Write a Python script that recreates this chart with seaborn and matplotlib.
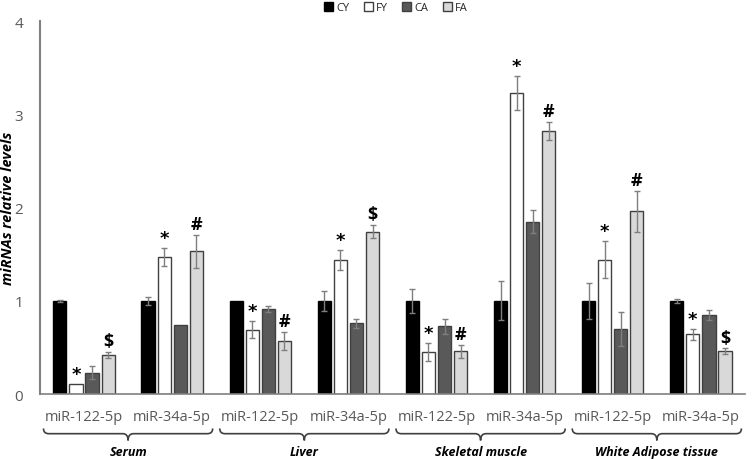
import matplotlib
matplotlib.use("Agg")
import matplotlib.pyplot as plt
import matplotlib.transforms as mtransforms
import numpy as np
import pandas as pd
import seaborn as sns
from matplotlib.patches import Patch, PathPatch
from matplotlib.path import Path as MPath

TISSUES = ["Serum", "Liver", "Skeletal muscle", "White Adipose tissue"]
GENES = ["miR-122-5p", "miR-34a-5p"]
GROUPS = ["CY", "FY", "CA", "FA"]

# order: Serum 122, Serum 34a, Liver 122, Liver 34a, SM 122, SM 34a, WAT 122, WAT 34a
CY = [1.00, 1.00, 1.00, 1.00, 1.00, 1.00, 1.00, 1.00]
FY = [0.11, 1.47, 0.69, 1.44, 0.45, 3.23, 1.44, 0.64]
CA = [0.23, 0.74, 0.91, 0.76, 0.73, 1.85, 0.70, 0.85]
FA = [0.42, 1.53, 0.57, 1.74, 0.46, 2.82, 1.96, 0.46]

CY_ERR = [0.01, 0.04, 0.00, 0.11, 0.13, 0.21, 0.19, 0.02]
FY_ERR = [0.00, 0.10, 0.09, 0.11, 0.10, 0.18, 0.20, 0.06]
CA_ERR = [0.07, 0.00, 0.03, 0.05, 0.08, 0.12, 0.18, 0.05]
FA_ERR = [0.03, 0.18, 0.10, 0.07, 0.07, 0.10, 0.22, 0.03]

FY_MARK = ["*", "*", "*", "*", "*", "*", "*", "*"]
FA_MARK = ["$", "#", "#", "$", "#", "#", "#", "$"]

COLORS = {"CY": "#000000", "FY": "#ffffff", "CA": "#595959", "FA": "#d9d9d9"}
EDGES = {"CY": "#000000", "FY": "#404040", "CA": "#404040", "FA": "#404040"}


def draw_brace(ax, x0, x1, y_top, y_mid, y_bot, dx=0.06):
    trans = mtransforms.blended_transform_factory(ax.transData, ax.transAxes)
    xc = (x0 + x1) / 2
    verts = [
        (x0, y_top), (x0, y_mid), (x0 + dx, y_mid),
        (xc - dx, y_mid), (xc, y_mid), (xc, y_bot),
        (xc, y_mid), (xc + dx, y_mid),
        (x1 - dx, y_mid), (x1, y_mid), (x1, y_top),
    ]
    codes = [
        MPath.MOVETO, MPath.CURVE3, MPath.CURVE3,
        MPath.LINETO, MPath.CURVE3, MPath.CURVE3,
        MPath.CURVE3, MPath.CURVE3,
        MPath.LINETO, MPath.CURVE3, MPath.CURVE3,
    ]
    patch = PathPatch(MPath(verts, codes), fill=False, edgecolor="#404040",
                      linewidth=1.2, transform=trans, clip_on=False)
    ax.add_patch(patch)


sns.set_style("white")
plt.rcParams["font.family"] = ["Open Sans", "DejaVu Sans"]

keys = [f"{t}|{g}" for t in TISSUES for g in GENES]
df = pd.DataFrame({
    "key": keys * 4,
    "group": np.repeat(GROUPS, len(keys)),
    "value": CY + FY + CA + FA,
})

fig = plt.figure(figsize=(7.54, 4.60), dpi=100)
ax = fig.add_axes([0.053, 0.141, 0.935, 0.811])

sns.barplot(data=df, x="key", y="value", hue="group", order=keys,
            hue_order=GROUPS, palette=COLORS, width=0.73, gap=0.18,
            errorbar=None, linewidth=1.0, legend=False, ax=ax)

errs = {"CY": CY_ERR, "FY": FY_ERR, "CA": CA_ERR, "FA": FA_ERR}
marks = {"FY": FY_MARK, "FA": FA_MARK}
for grp, cont in zip(GROUPS, ax.containers):
    xs, ys, es = [], [], []
    for bar, err in zip(cont, errs[grp]):
        bar.set_edgecolor(EDGES[grp])
        bar.set_linewidth(1.0)
        xs.append(bar.get_x() + bar.get_width() / 2)
        ys.append(bar.get_height())
        es.append(err)
    xs, ys, es = np.array(xs), np.array(ys), np.array(es)
    keep = es > 0
    ax.errorbar(xs[keep], ys[keep], yerr=es[keep], fmt="none", ecolor="#7f7f7f",
                elinewidth=1.0, capsize=2.2, capthick=1.0, zorder=3)
    if grp in marks:
        for x, y, e, m in zip(xs, ys, es, marks[grp]):
            if m == "*":
                ax.text(x, y + e + 0.01, m, ha="center", va="bottom",
                        fontsize=13, fontweight="bold", color="#000000",
                        family="DejaVu Sans")
            else:
                ax.text(x, y + e + 0.02, m, ha="center", va="bottom",
                        fontsize=13, fontweight="bold", color="#000000")

ax.set_ylim(0, 4)
ax.set_xlim(-0.5, len(keys) - 0.5)
ax.set_yticks([0, 1, 2, 3, 4])
ax.set_xticks(range(len(keys)))
ax.set_xticklabels(GENES * len(TISSUES))
ax.tick_params(axis="x", length=0, pad=11, labelsize=10.5, labelcolor="#595959")
ax.tick_params(axis="y", length=0, pad=12, labelsize=11, labelcolor="#595959")
ax.set_xlabel("")
ax.set_ylabel("")
fig.text(8 / 754, (460 - 208) / 460, "miRNAs relative levels", rotation=90,
         ha="center", va="center", fontsize=10.5, fontweight="bold",
         fontstyle="italic", color="#000000")

for side in ["top", "right"]:
    ax.spines[side].set_visible(False)
ax.spines["left"].set_color("#808080")
ax.spines["left"].set_linewidth(1.5)
ax.spines["bottom"].set_color("#808080")
ax.spines["bottom"].set_linewidth(1.2)

trans = mtransforms.blended_transform_factory(ax.transData, ax.transAxes)
for i, tissue in enumerate(TISSUES):
    x0 = 2 * i - 0.46
    x1 = 2 * i + 1.46
    draw_brace(ax, x0, x1, -0.092, -0.106, -0.124)
    ax.text(2 * i + 0.5, -0.153, tissue, transform=trans, ha="center", va="center",
            fontsize=9, fontweight="bold", fontstyle="italic", color="#000000")

handles = [Patch(facecolor=COLORS[g], edgecolor=EDGES[g], linewidth=1.0, label=g)
           for g in GROUPS]
fig.legend(handles=handles, loc="upper center", bbox_to_anchor=(0.525, 1.015),
           ncol=4, frameon=False, fontsize=8, handlelength=0.8, handleheight=0.8,
           handletextpad=0.3, columnspacing=1.3)

fig.savefig("out.png", dpi=100)
